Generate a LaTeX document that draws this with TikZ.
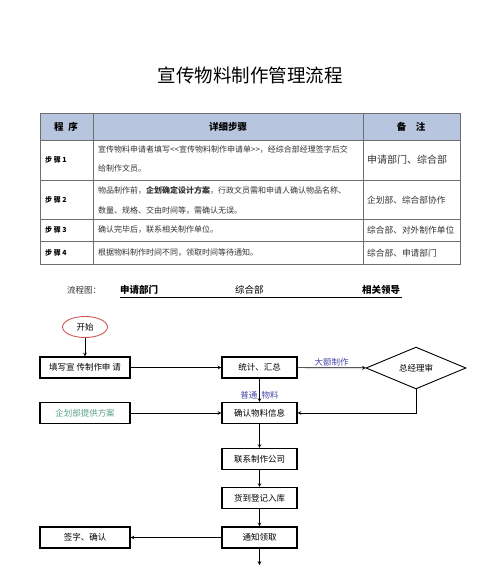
\documentclass[tikz,border=0pt]{standalone}
\usepackage{fontspec}
\setmainfont{Noto Sans CJK SC}
\usetikzlibrary{shapes.geometric}
\definecolor{headblue}{RGB}{184,197,222}
\definecolor{rulegray}{RGB}{110,110,110}
\definecolor{labelblue}{RGB}{70,70,170}
\definecolor{planteal}{RGB}{90,160,140}
\definecolor{startred}{RGB}{205,85,85}

\begin{document}
\begin{tikzpicture}[x=1pt,y=-1pt,
  tablerule/.style={rulegray,line width=1pt},
  headtext/.style={inner sep=0pt,font=\fontsize{9.5}{11}\selectfont\bfseries},
  steplabel/.style={anchor=west,inner sep=0pt,font=\fontsize{7}{8}\selectfont\bfseries},
  celltext/.style={anchor=west,inner sep=0pt,text=black!80,font=\fontsize{8}{9}\selectfont},
  notetext/.style={anchor=west,inner sep=0pt,text=black!80,font=\fontsize{8.7}{10}\selectfont},
  lanetext/.style={anchor=west,inner sep=0pt,font=\fontsize{9.5}{11}\selectfont},
  box/.style={draw,line width=1.1pt,minimum width=75pt,minimum height=21pt,inner sep=0pt,font=\fontsize{8.5}{10}\selectfont},
  widebox/.style={box,minimum width=90pt},
  startnode/.style={ellipse,draw=startred,line width=0.9pt,minimum width=45pt,minimum height=21pt,inner sep=0pt,font=\fontsize{8.5}{10}\selectfont},
  decision/.style={diamond,draw,line width=0.9pt,minimum width=100pt,minimum height=38pt,inner sep=0pt,font=\fontsize{8.5}{10}\selectfont},
  flowlabel/.style={inner sep=1pt,text=labelblue,font=\fontsize{8.5}{10}\selectfont},
  link/.style={->,>=stealth,line width=0.7pt}]
\useasboundingbox (0,0) rectangle (500,565);

\node (title) at (250,75) {\fontsize{18.5}{20}\selectfont 宣传物料制作管理流程};

\fill[headblue] (40,113) rectangle (460,140);
\draw[tablerule] (40,113) rectangle (460,264);
\foreach \y in {140,180,219,241} \draw[tablerule] (40,\y) -- (460,\y);
\foreach \x in {93,363} \draw[tablerule] (\x,113) -- (\x,264);

\node[headtext] (hd1) at (66,127) {程\enspace 序};
\node[headtext] (hd2) at (228,127) {详细步骤};
\node[headtext] (hd3) at (411,127) {备\quad 注};

\node[steplabel] (st1) at (45,160) {步\ 骤\ 1};
\node[steplabel] (st2) at (45,200) {步\ 骤\ 2};
\node[steplabel] (st3) at (45,230) {步\ 骤\ 3};
\node[steplabel] (st4) at (45,253) {步\ 骤\ 4};

\node[celltext] (d1a) at (98,150) {宣传物料申请者填写{<}{<}宣传物料制作申请单{>}{>}，经综合部经理签字后交};
\node[celltext] (d1b) at (98,168) {给制作文员。};
\node[celltext] (d2a) at (98,190) {物品制作前，\textbf{企划确定设计方案}，行政文员需和申请人确认物品名称、};
\node[celltext] (d2b) at (98,211) {数量、规格、交由时间等，需确认无误。};
\node[celltext] (d3) at (98,230) {确认完毕后，联系相关制作单位。};
\node[celltext] (d4) at (98,253) {根据物料制作时间不同，领取时间等待通知。};

\node[notetext,font=\fontsize{10}{11}\selectfont] (n1) at (367,160) {申请部门、综合部};
\node[notetext] (n2) at (367,200) {企划部、综合部协作};
\node[notetext] (n3) at (367,230) {综合部、对外制作单位};
\node[notetext] (n4) at (367,253) {综合部、申请部门};

\node[lanetext,text=black!80,font=\fontsize{8.5}{10}\selectfont] (chart) at (67,290) {流程图：};
\node[lanetext,font=\fontsize{9.5}{11}\selectfont\bfseries] (lane1) at (120,290) {申请部门};
\node[lanetext] (lane2) at (235,290) {综合部};
\node[lanetext,font=\fontsize{9.5}{11}\selectfont\bfseries] (lane3) at (362,290) {相关领导};
\draw[line width=0.9pt] (120,297) -- (402,297);

\node[startnode] (start) at (85,327) {开始};
\node[widebox] (fill) at (85,367.5) {填写宣\ 传制作申\ 请};
\node[box] (sum) at (259.5,367.5) {统计、汇总};
\node[decision] (gm) at (416,368) {总经理审};
\node[widebox,text=planteal] (plan) at (85,413) {企划部提供方案};
\node[box] (confirm) at (259.5,413) {确认物料信息};
\node[box] (contact) at (259.5,459) {联系制作公司};
\node[box] (store) at (259.5,498) {货到登记入库};
\node[box] (notify) at (259.5,537.5) {通知领取};
\node[widebox] (sign) at (85,537.5) {签字、确认};
\coordinate (more) at (259.5,565);

\draw[link] (start) -- (fill);
\draw[link] (fill) -- (sum);
\draw[link] (sum) -- node[flowlabel,above] {大额制作} (gm);
\draw[link] (sum) -- node[flowlabel,pos=0.7] {普通\enspace 物料} (confirm);
\draw[link] (plan) -- (confirm);
\draw[link] (gm.south) |- (confirm.east);
\draw[link] (confirm) -- (contact);
\draw[link] (contact) -- (store);
\draw[link] (store) -- (notify);
\draw[link] (notify) -- (sign);
\draw[link] (notify) -- (more);
\end{tikzpicture}
\end{document}
